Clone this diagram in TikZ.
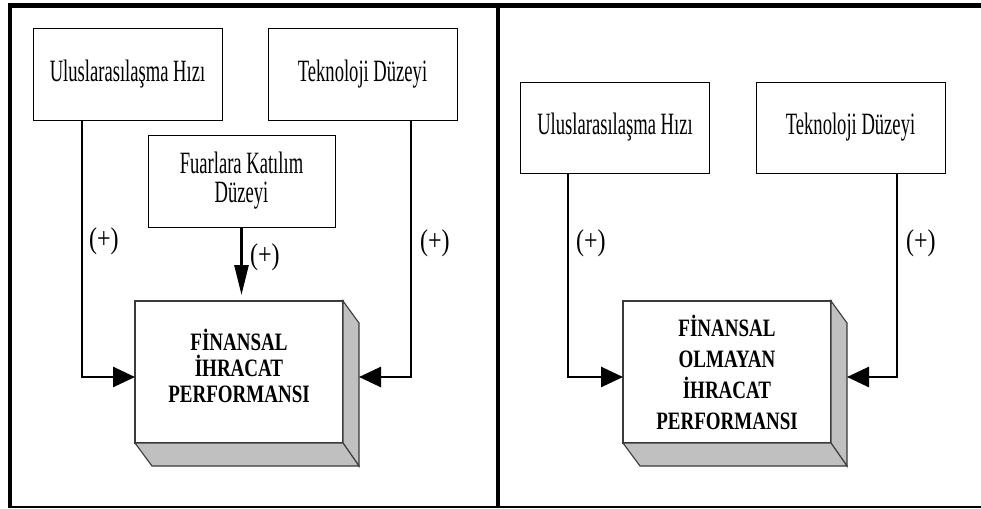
\documentclass[tikz,border=0pt]{standalone}
\usepackage{fontspec}
\setmainfont{Liberation Serif}
\newfontfamily\boxfont[FakeStretch=0.6]{Liberation Serif}
\newfontfamily\plusfont[FakeStretch=0.8]{Liberation Serif}
\newfontfamily\perffont[FakeStretch=0.76]{Liberation Serif}
\usetikzlibrary{arrows.meta,calc}
\definecolor{sidegray}{HTML}{C0C0C0}
\definecolor{edgegray}{HTML}{3A3A3A}
\begin{document}
\begin{tikzpicture}[x=1pt,y=-1pt,
  frame/.style={line width=4.5pt},
  srcbox/.style={draw=black,line width=0.9pt,fill=white,outer sep=0pt,
    minimum width=189pt,minimum height=92pt,inner sep=0pt,align=center,
    font=\boxfont\fontsize{31}{29}\selectfont},
  perfbox/.style={draw=edgegray,line width=1.1pt,fill=white,outer sep=0pt,
    minimum width=208pt,minimum height=142pt,inner sep=0pt},
  perftext/.style={align=center,inner sep=0pt},
  sideface/.style={draw=edgegray,line width=1.1pt,fill=sidegray},
  conn/.style={line width=2.7pt,-{Triangle[length=22pt,width=20pt]}},
  vconn/.style={line width=2.7pt,-{Triangle[length=30pt,width=14pt]}},
  plus/.style={anchor=west,inner sep=0pt,font=\plusfont\fontsize{30}{30}\selectfont}]
\useasboundingbox (0,0) rectangle (981,508);
\fill[white] (0,0) rectangle (981,508);

% outer frame and divider
\draw[line width=5pt] (8,5.5) -- (981,5.5);
\draw[frame] (10,3) -- (10,508);
\draw[line width=1.5pt] (8,507) -- (981,507);
\draw[line width=4pt] (498,5) -- (498,507);

% ---------- left panel ----------
\node[srcbox] (u1) at (127.5,74) {Uluslarasılaşma Hızı};
\node[srcbox] (t1) at (362.5,74) {Teknoloji Düzeyi};
\node[srcbox,minimum width=187pt] (fu) at (241.5,181) {Fuarlara Katılım\\Düzeyi};

\node[perfbox] (f1) at (239,372) {};
\draw[sideface] (f1.north east) -- ++(16,22) -- ($(f1.south east)+(16,23)$) -- (f1.south east) -- cycle;
\draw[sideface] (f1.south west) -- ++(17,23) -- ($(f1.south east)+(16,23)$) -- (f1.south east) -- cycle;
\node[perftext,font=\perffont\bfseries\fontsize{25}{26}\selectfont] (p1) at (239,366)
  {FİNANSAL\\İHRACAT\\PERFORMANSI};

\coordinate (l1) at ($(f1.west)+(0,5)$);
\coordinate (r1) at ($(f1.east)+(16,5)$);
\coordinate (m1) at (241.5,295);
\draw[conn] (u1.south -| 82,0) |- (l1);
\draw[conn] (t1.south -| 411,0) |- (r1);
\draw[vconn] (fu.south) -- (m1);

\node[plus] (pl1) at (89,241) {(+)};
\node[plus] (pm1) at (250,257) {(+)};
\node[plus] (pr1) at (420,243) {(+)};

% ---------- right panel ----------
\node[srcbox,minimum height=91pt] (u2) at (615,127.5) {Uluslarasılaşma Hızı};
\node[srcbox,minimum height=91pt] (t2) at (850.5,127.5) {Teknoloji Düzeyi};

\node[perfbox] (f2) at (727,372) {};
\draw[sideface] (f2.north east) -- ++(16,22) -- ($(f2.south east)+(16,23)$) -- (f2.south east) -- cycle;
\draw[sideface] (f2.south west) -- ++(17,23) -- ($(f2.south east)+(16,23)$) -- (f2.south east) -- cycle;
\node[perftext,font=\perffont\bfseries\fontsize{25}{31}\selectfont] (p2) at (727,372)
  {FİNANSAL\\OLMAYAN\\İHRACAT\\PERFORMANSI};

\coordinate (l2) at ($(f2.west)+(0,5)$);
\coordinate (r2) at ($(f2.east)+(16,5)$);
\draw[conn] (u2.south -| 568,0) |- (l2);
\draw[conn] (t2.south -| 897,0) |- (r2);

\node[plus] (pl2) at (576,243) {(+)};
\node[plus] (pr2) at (906,243) {(+)};
\end{tikzpicture}
\end{document}
